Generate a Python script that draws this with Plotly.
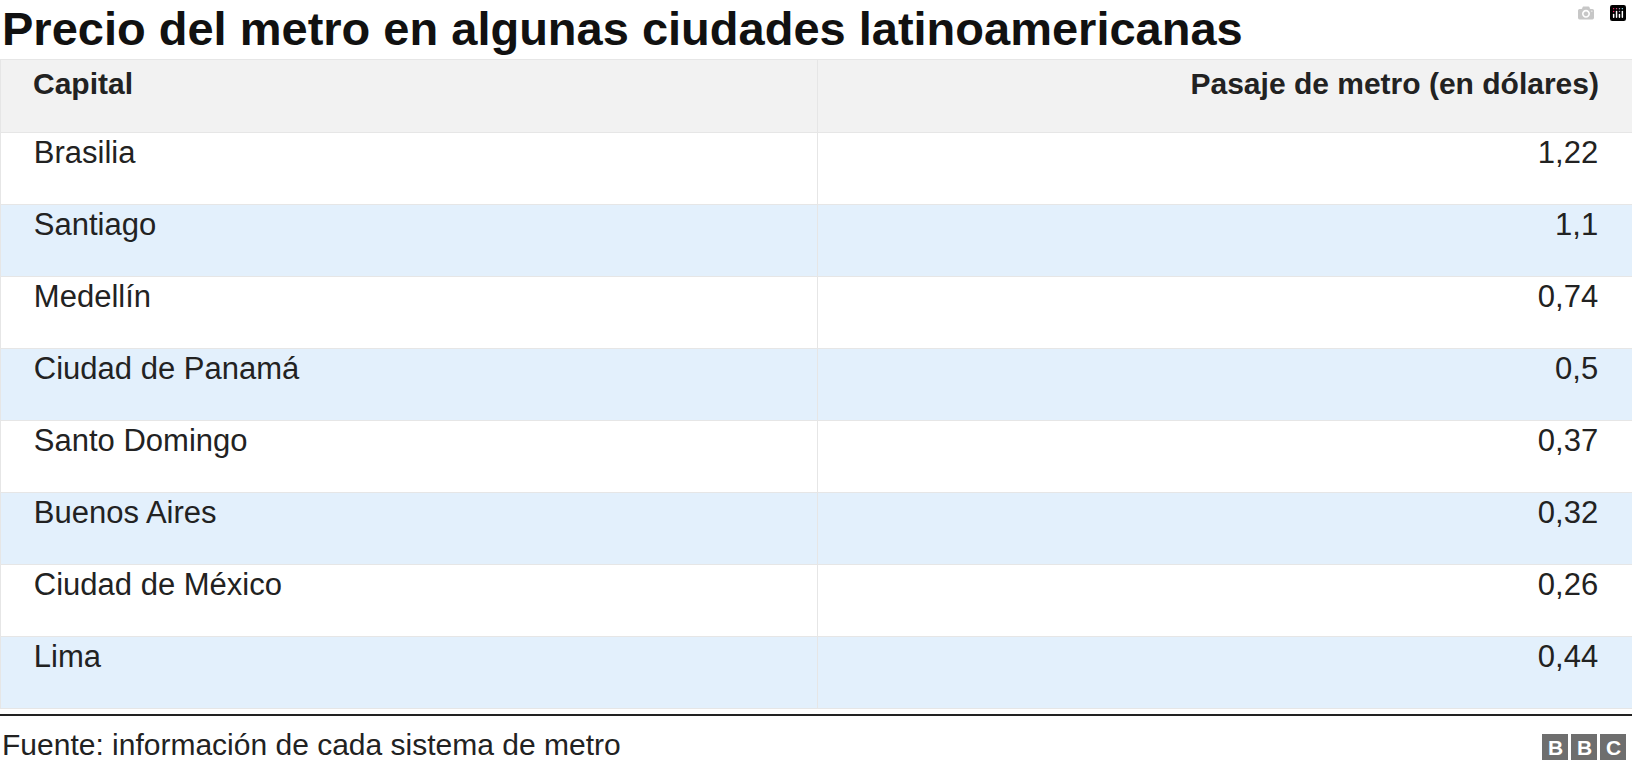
import plotly.graph_objects as go

capitals = ["Brasilia", "Santiago", "Medellín", "Ciudad de Panamá", "Santo Domingo",
            "Buenos Aires", "Ciudad de México", "Lima"]
fares = ["1,22", "1,1", "0,74", "0,5", "0,37", "0,32", "0,26", "0,44"]
headers = ["Capital", "Pasaje de metro (en dólares)"]

W, H = 1632, 770
PAD = "\u00a0\u00a0\u00a0"
fills = ["#ffffff" if i % 2 == 0 else "#e3f0fc" for i in range(len(capitals))]
FONT = "Liberation Sans, Arial"

fig = go.Figure(go.Table(
    domain=dict(x=[0, 1], y=[1 - 712 / H, 1 - 59 / H]),
    columnwidth=[817, 815],
    header=dict(values=[PAD + "<b>" + headers[0] + "</b>", "<b>" + headers[1] + "</b>" + PAD],
                fill_color="#f2f2f2", line_color="#e6e6e6", height=73,
                align=["left", "right"],
                font=dict(family=FONT, size=30, color="#222222")),
    cells=dict(values=[[PAD + c for c in capitals], [f + PAD for f in fares]],
               fill_color=[fills, fills],
               line_color="#e6e6e6", height=72, align=["left", "right"],
               font=dict(family=FONT, size=31, color="#222222")),
))

fig.update_layout(
    width=W, height=H, margin=dict(l=0, r=0, t=0, b=0),
    paper_bgcolor="white",
    font=dict(family=FONT),
)
fig.add_annotation(text="<b>Precio del metro en algunas ciudades latinoamericanas</b>",
                   xref="paper", yref="paper", x=0, y=1 - 29 / H, xanchor="left", yanchor="middle",
                   showarrow=False, font=dict(size=47, color="#111111"))
fig.add_shape(type="line", xref="paper", yref="paper", x0=0, x1=1,
              y0=1 - 715 / H, y1=1 - 715 / H, line=dict(color="#222222", width=2))
fig.add_annotation(text="Fuente: información de cada sistema de metro",
                   xref="paper", yref="paper", x=0, y=1 - 744 / H, xanchor="left", yanchor="middle",
                   showarrow=False, font=dict(size=30, color="#222222"))
for i, letter in enumerate("BBC"):
    x0 = W - 90 + i * 29
    fig.add_shape(type="rect", xref="paper", yref="paper",
                  x0=x0 / W, x1=(x0 + 26) / W, y0=1 - 760 / H, y1=1 - 734 / H,
                  fillcolor="#6e6e6e", line_width=0)
    fig.add_annotation(text=f"<b>{letter}</b>", xref="paper", yref="paper",
                       x=(x0 + 13) / W, y=1 - 747 / H, xanchor="center", yanchor="middle",
                       showarrow=False, font=dict(family=FONT, size=21, color="white"))
fig.write_html("out.html", post_script="document.body.style.margin='0';")
